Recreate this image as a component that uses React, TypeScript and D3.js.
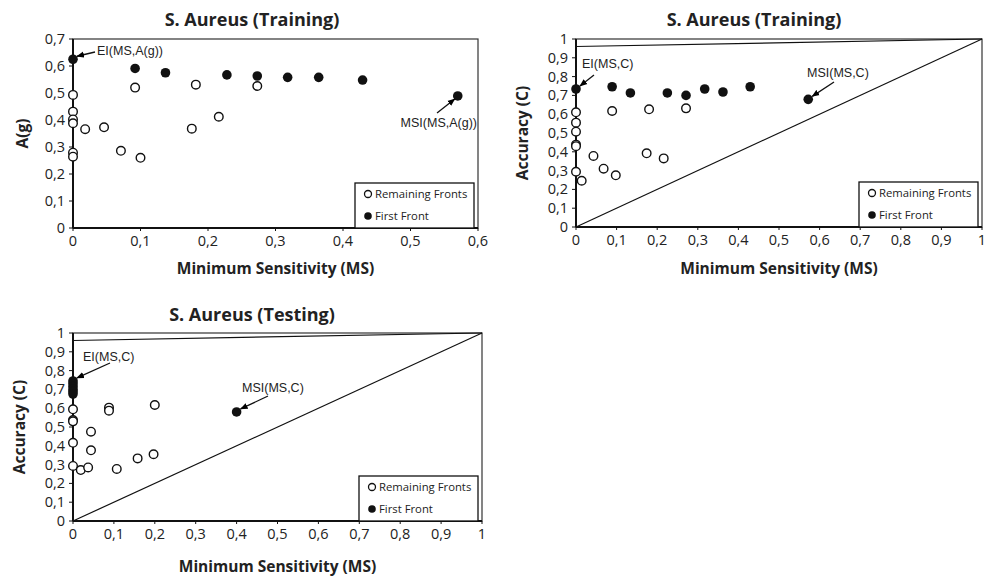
import React from 'react';
import * as d3 from 'd3';

// ---- data ----
// Panel 1: S. Aureus (Training), MS vs A(g)
const trainAgFirstX = [0, 0.092, 0.137, 0.228, 0.273, 0.318, 0.364, 0.429, 0.570];
const trainAgFirstY = [0.625, 0.591, 0.575, 0.567, 0.563, 0.558, 0.558, 0.548, 0.489];
const trainAgRestX = [0, 0, 0, 0, 0, 0, 0.018, 0.046, 0.071, 0.092, 0.1, 0.176, 0.182, 0.216, 0.273];
const trainAgRestY = [0.493, 0.431, 0.402, 0.388, 0.279, 0.264, 0.366, 0.373, 0.286, 0.52, 0.26, 0.368, 0.531, 0.412, 0.526];

// Panel 2: S. Aureus (Training), MS vs C
const trainCFirstX = [0, 0.089, 0.134, 0.225, 0.271, 0.317, 0.362, 0.429, 0.572];
const trainCFirstY = [0.734, 0.746, 0.713, 0.713, 0.7, 0.734, 0.718, 0.746, 0.679];
const trainCRestX = [0, 0, 0, 0, 0, 0, 0.014, 0.043, 0.068, 0.098, 0.089, 0.174, 0.18, 0.216, 0.271];
const trainCRestY = [0.61, 0.555, 0.507, 0.438, 0.43, 0.294, 0.246, 0.378, 0.31, 0.275, 0.617, 0.392, 0.626, 0.365, 0.631];

// Panel 3: S. Aureus (Testing), MS vs C
const testCFirstX = [0, 0, 0, 0, 0, 0, 0.4];
const testCFirstY = [0.745, 0.73, 0.715, 0.7, 0.688, 0.675, 0.58];
const testCRestX = [0, 0, 0, 0, 0, 0.019, 0.037, 0.044, 0.044, 0.088, 0.088, 0.107, 0.158, 0.197, 0.2];
const testCRestY = [0.594, 0.537, 0.53, 0.416, 0.293, 0.271, 0.285, 0.475, 0.376, 0.603, 0.587, 0.277, 0.333, 0.355, 0.617];

const legendLabels = ['Remaining Fronts', 'First Front'];

const zip = (xs: number[], ys: number[]) => xs.map((x, i) => [x, ys[i]] as [number, number]);

const sans = "'Open Sans', sans-serif";
const arial = "'Liberation Sans', Arial, sans-serif";

type Note = { text: string; at: [number, number]; tx: number; ty: number; anchor: string; from: [number, number] };

type PanelProps = {
  box: { left: number; right: number; top: number; bottom: number };
  xMax: number;
  yMax: number;
  title: string;
  titleX: number;
  titleY: number;
  yLabel: string;
  yLabelX: number;
  xLabelY: number;
  first: [number, number][];
  rest: [number, number][];
  refLines: boolean;
  notes: Note[];
  id: string;
};

function Panel(p: PanelProps) {
  const { box } = p;
  const x = d3.scaleLinear().domain([0, p.xMax]).range([box.left, box.right]);
  const y = d3.scaleLinear().domain([0, p.yMax]).range([box.bottom, box.top]);
  const xTicks = d3.range(0, p.xMax + 1e-9, 0.1);
  const yTicks = d3.range(0, p.yMax + 1e-9, 0.1);
  const fmt = (v: number) => {
    const r = Math.round(v * 10) / 10;
    return r === 0 || r === 1 ? String(r) : d3.format('.1f')(r).replace('.', ',');
  };
  const line = d3.line<[number, number]>().x(d => x(d[0])).y(d => y(d[1]));
  const midY = (box.top + box.bottom) / 2;
  const lgX = box.right - 123;
  const lgY = box.bottom - 45;

  return (
    <g>
      <defs>
        <marker id={'arr' + p.id} viewBox="0 0 10 10" refX="9" refY="5" markerWidth="6" markerHeight="6" orient="auto">
          <path d="M0,1 L10,5 L0,9 z" fill="#000" />
        </marker>
      </defs>
      <text x={p.titleX} y={p.titleY} textAnchor="middle" fontFamily={sans} fontWeight={700} fontSize={18} fill="#222">
        {p.title}
      </text>
      {/* frame */}
      <rect x={box.left} y={box.top} width={box.right - box.left} height={box.bottom - box.top} fill="none" stroke="#333" strokeWidth={1.2} />
      {p.refLines && (
        <g fill="none" stroke="#111" strokeWidth={1.2}>
          <path d={line([[0, 0], [1, 1]])!} />
          <path d={line([[0, 0.96], [1, 1]])!} />
        </g>
      )}
      {/* axes */}
      <line x1={box.left} x2={box.right} y1={box.bottom} y2={box.bottom} stroke="#111" strokeWidth={2} />
      <line x1={box.left} x2={box.left} y1={box.top} y2={box.bottom} stroke="#111" strokeWidth={2} />
      {yTicks.map(t => (
        <g key={'y' + t}>
          <line x1={box.left - 4} x2={box.left} y1={y(t)} y2={y(t)} stroke="#111" strokeWidth={1} />
          <text x={box.left - 8} y={y(t)} dy="0.35em" textAnchor="end" fontFamily={sans} fontSize={14.5} fill="#222">
            {fmt(t)}
          </text>
        </g>
      ))}
      {xTicks.map(t => (
        <g key={'x' + t}>
          <line x1={x(t)} x2={x(t)} y1={box.bottom} y2={box.bottom + 3} stroke="#111" strokeWidth={1} />
          <text x={x(t)} y={box.bottom + 18} textAnchor="middle" fontFamily={sans} fontSize={14.5} fill="#222">
            {fmt(t)}
          </text>
        </g>
      ))}
      <text x={(box.left + box.right) / 2} y={p.xLabelY} textAnchor="middle" fontFamily={sans} fontWeight={700} fontSize={15.5} fill="#222">
        Minimum Sensitivity (MS)
      </text>
      <text transform={`translate(${p.yLabelX},${midY}) rotate(-90)`} textAnchor="middle" dy="0.35em" fontFamily={sans} fontWeight={700} fontSize={15.5} fill="#222">
        {p.yLabel}
      </text>
      {/* legend */}
      <rect x={lgX} y={lgY} width={119} height={45} fill="#fff" stroke="#111" strokeWidth={1.3} />
      <circle cx={lgX + 13} cy={lgY + 11} r={3.5} fill="#fff" stroke="#111" strokeWidth={1.3} />
      <circle cx={lgX + 13} cy={lgY + 33} r={3.8} fill="#111" />
      <text x={lgX + 20} y={lgY + 11} dy="0.35em" fontFamily={sans} fontSize={11.3} fill="#222">{legendLabels[0]}</text>
      <text x={lgX + 20} y={lgY + 33} dy="0.35em" fontFamily={sans} fontSize={11.3} fill="#222">{legendLabels[1]}</text>
      {/* points */}
      {p.rest.map((d, i) => (
        <circle key={'r' + i} cx={x(d[0])} cy={y(d[1])} r={4.3} fill="#fff" stroke="#111" strokeWidth={1.4} />
      ))}
      {p.first.map((d, i) => (
        <circle key={'f' + i} cx={x(d[0])} cy={y(d[1])} r={4.8} fill="#111" />
      ))}
      {/* annotations */}
      {p.notes.map((n, i) => (
        <g key={'n' + i}>
          <line x1={n.from[0]} y1={n.from[1]} x2={x(n.at[0]) + (n.from[0] > x(n.at[0]) ? 4 : -3)} y2={y(n.at[1]) + (n.from[1] > y(n.at[1]) ? 3 : -3)} stroke="#111" strokeWidth={1.3} markerEnd={`url(#arr${p.id})`} />
          <text x={n.tx} y={n.ty} dy="0.35em" textAnchor={n.anchor as any} fontFamily={arial} fontSize={12.5} fill="#222">
            {n.text}
          </text>
        </g>
      ))}
    </g>
  );
}

export default function App() {
  return (
    <svg width={992} height={576} style={{ position: 'absolute', left: 0, top: 0, background: '#fff' }}>
      <rect width={992} height={576} fill="#fff" />
      <Panel
        id="a"
        box={{ left: 73, right: 478, top: 39, bottom: 228 }}
        xMax={0.6}
        yMax={0.7}
        title="S. Aureus (Training)"
        titleX={252}
        titleY={26}
        yLabel="A(g)"
        yLabelX={23}
        xLabelY={274}
        first={zip(trainAgFirstX, trainAgFirstY)}
        rest={zip(trainAgRestX, trainAgRestY)}
        refLines={false}
        notes={[
          { text: 'EI(MS,A(g))', at: [trainAgFirstX[0], trainAgFirstY[0]], tx: 97, ty: 51, anchor: 'start', from: [95, 52] },
          { text: 'MSI(MS,A(g))', at: [trainAgFirstX[8], trainAgFirstY[8]], tx: 477, ty: 123, anchor: 'end', from: [437, 113] },
        ]}
      />
      <Panel
        id="b"
        box={{ left: 576, right: 982, top: 39, bottom: 227 }}
        xMax={1}
        yMax={1}
        title="S. Aureus  (Training)"
        titleX={754}
        titleY={26}
        yLabel="Accuracy (C)"
        yLabelX={523}
        xLabelY={274}
        first={zip(trainCFirstX, trainCFirstY)}
        rest={zip(trainCRestX, trainCRestY)}
        refLines={true}
        notes={[
          { text: 'EI(MS,C)', at: [trainCFirstX[0], trainCFirstY[0]], tx: 582, ty: 64, anchor: 'start', from: [594, 75] },
          { text: 'MSI(MS,C)', at: [trainCFirstX[8], trainCFirstY[8]], tx: 807, ty: 73, anchor: 'start', from: [834, 82] },
        ]}
      />
      <Panel
        id="c"
        box={{ left: 73, right: 482, top: 333, bottom: 521 }}
        xMax={1}
        yMax={1}
        title="S. Aureus  (Testing)"
        titleX={252}
        titleY={321}
        yLabel="Accuracy (C)"
        yLabelX={20}
        xLabelY={572}
        first={zip(testCFirstX, testCFirstY)}
        rest={zip(testCRestX, testCRestY)}
        refLines={true}
        notes={[
          { text: 'EI(MS,C)', at: [testCFirstX[0], testCFirstY[0]], tx: 83, ty: 357, anchor: 'start', from: [110, 363] },
          { text: 'MSI(MS,C)', at: [testCFirstX[6], testCFirstY[6]], tx: 242, ty: 388, anchor: 'start', from: [268, 396] },
        ]}
      />
    </svg>
  );
}
